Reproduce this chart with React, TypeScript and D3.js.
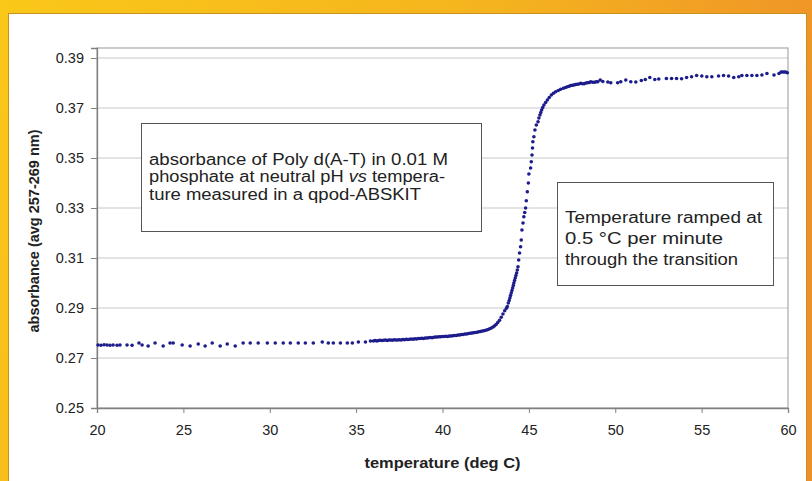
import { useEffect, useRef } from "react";
import * as d3 from "d3";

const W = 812;
const H = 481;
const MARGIN = { top: 48, right: 24, bottom: 73, left: 97 };

// temperature (deg C) and absorbance
const temps = [
  20.06, 20.23, 20.41, 20.58, 20.75, 20.93, 21.16, 21.33, 21.74, 22.03, 22.43, 22.61, 22.96, 23.36,
  23.83, 24.23, 24.41, 24.93, 25.39, 25.86, 26.26, 26.67, 27.13, 27.54, 28.0, 28.46, 28.87, 29.33,
  29.86, 30.32, 30.78, 31.19, 31.65, 32.06, 32.52, 33.04, 33.39, 33.68, 34.09, 34.49, 34.78, 35.13,
  35.54, 35.83,
  36.0, 36.1, 36.2, 36.3, 36.4, 36.5, 36.6, 36.7, 36.8, 36.9, 37.0, 37.1, 37.2, 37.3, 37.4, 37.5,
  37.6, 37.7, 37.8, 37.9, 38.0, 38.1, 38.2, 38.3, 38.4, 38.5, 38.6, 38.7, 38.8, 38.9, 39.0, 39.1,
  39.2, 39.3, 39.4, 39.5, 39.6, 39.7, 39.8, 39.9, 40.0, 40.1, 40.2, 40.3, 40.4, 40.5, 40.6, 40.7,
  40.8, 40.9, 41.0, 41.1, 41.2, 41.3, 41.4, 41.5, 41.6, 41.7, 41.8, 41.9, 42.0, 42.1, 42.2, 42.3,
  42.4, 42.5, 42.6, 42.7, 42.8, 42.9, 43.0, 43.1, 43.2, 43.3, 43.4, 43.5, 43.6, 43.7, 43.75, 43.81,
  43.86, 43.9, 43.94, 43.98, 44.02, 44.06, 44.1, 44.13, 44.17, 44.21, 44.25, 44.29, 44.33, 44.37,
  44.41, 44.46, 44.52, 44.56, 44.6, 44.66, 44.71, 44.76, 44.81, 44.85, 44.91, 44.97, 45.0, 45.1,
  45.14, 45.18, 45.21, 45.23, 45.29, 45.35, 45.43, 45.53, 45.58, 45.64, 45.69, 45.74, 45.8, 45.87,
  45.97, 46.07, 46.18, 46.3, 46.42, 46.55, 46.7, 46.84, 47.0, 47.12, 47.23, 47.33, 47.42, 47.52,
  47.61, 47.7, 47.8, 47.9, 48.0, 48.1, 48.2, 48.3, 48.4, 48.5, 48.58, 48.7, 48.8, 48.9, 48.99,
  49.13, 49.28, 49.57, 49.74, 50.14, 50.32, 50.61, 50.9, 51.19, 51.51, 51.74, 52.0, 52.29, 52.52,
  52.96, 53.26, 53.55, 53.84, 54.13, 54.42, 54.71, 55.01, 55.3, 55.59, 55.98, 56.27, 56.56, 56.86,
  57.15, 57.33, 57.62, 57.91, 58.2, 58.49, 58.78, 59.19, 59.48, 59.6, 59.68, 59.78, 59.87, 59.96,
];

const absorbance = [
  0.2752, 0.2751, 0.2753, 0.2752, 0.2751, 0.2752, 0.2751, 0.2752, 0.2752, 0.2751, 0.276, 0.2752, 0.2748, 0.276,
  0.2748, 0.276, 0.276, 0.2752, 0.2748, 0.2756, 0.2748, 0.276, 0.2748, 0.2756, 0.2748, 0.276, 0.276, 0.276,
  0.276, 0.276, 0.276, 0.276, 0.276, 0.276, 0.276, 0.2764, 0.276, 0.276, 0.276, 0.276, 0.276, 0.2764,
  0.2764, 0.2768,
  0.2768, 0.277, 0.2768, 0.277, 0.2771, 0.277, 0.2771, 0.2772, 0.277, 0.2772, 0.2772, 0.2771, 0.2773, 0.2772, 0.2772, 0.2773,
  0.2772, 0.2774, 0.2773, 0.2775, 0.2774, 0.2775, 0.2776, 0.2775, 0.2777, 0.2776, 0.2778, 0.2778, 0.2779, 0.2778, 0.278, 0.278,
  0.2781, 0.2782, 0.2781, 0.2783, 0.2784, 0.2784, 0.2785, 0.2785, 0.2786, 0.2786, 0.2787, 0.2786, 0.2788, 0.2788, 0.2789, 0.279,
  0.279, 0.2792, 0.2792, 0.2794, 0.2794, 0.2796, 0.2796, 0.2798, 0.2799, 0.28, 0.2801, 0.2802, 0.2803, 0.2805, 0.2806, 0.2808,
  0.2809, 0.2811, 0.2813, 0.2816, 0.2819, 0.2823, 0.2828, 0.2834, 0.2842, 0.2851, 0.2863, 0.2876, 0.2889, 0.2899, 0.2906, 0.292,
  0.293, 0.294, 0.295, 0.296, 0.297, 0.298, 0.299, 0.3, 0.301, 0.302, 0.303, 0.304, 0.3052, 0.3065,
  0.3092, 0.312, 0.3145, 0.3172, 0.3212, 0.324, 0.3265, 0.3282, 0.33, 0.3329, 0.3365, 0.34, 0.3436, 0.346,
  0.3485, 0.3512, 0.354, 0.3565, 0.3585, 0.3612, 0.3632, 0.3645, 0.366, 0.3672, 0.3682, 0.3692, 0.3702, 0.3712,
  0.3722, 0.3732, 0.3742, 0.3752, 0.3759, 0.3765, 0.377, 0.3775, 0.3779, 0.3782, 0.3785, 0.3787, 0.379, 0.3791,
  0.3792, 0.3794, 0.3795, 0.3796, 0.3799, 0.3797, 0.3797, 0.38, 0.3801, 0.3802, 0.3805, 0.3803, 0.3803, 0.3805, 0.3805,
  0.3812, 0.3806, 0.3804, 0.3801, 0.3801, 0.3805, 0.3812, 0.3805, 0.3804, 0.381, 0.3814, 0.3822, 0.3814, 0.3816,
  0.3818, 0.3818, 0.3818, 0.3817, 0.3822, 0.3825, 0.383, 0.3828, 0.3825, 0.3825, 0.3828, 0.383, 0.3828, 0.3822,
  0.3825, 0.383, 0.383, 0.383, 0.383, 0.3832, 0.3838, 0.3832, 0.3838, 0.3844, 0.3844, 0.3844, 0.3844, 0.3841,
];

const xTicks = [20, 25, 30, 35, 40, 45, 50, 55, 60];
const yTicks = [0.25, 0.27, 0.29, 0.31, 0.33, 0.35, 0.37, 0.39];

const note1 = [
  ["absorbance of Poly d(A-T) in 0.01 M"],
  ["phosphate at neutral pH ", "vs", " tempera-"],
  ["ture measured in a qpod-ABSKIT"],
];
const note1Widths = [299, 296, 272];
const note2 = ["Temperature ramped at", "0.5 °C per minute", "through the transition"];
const note2Widths = [197, 158, 173];

const FONT = "'Liberation Sans', Arial, sans-serif";

export default function App() {
  const svgRef = useRef<SVGSVGElement>(null);

  useEffect(() => {
    if (!svgRef.current) return;
    const svg = d3.select(svgRef.current);
    svg.selectAll("*").remove();

    const innerW = W - MARGIN.left - MARGIN.right;
    const innerH = H - MARGIN.top - MARGIN.bottom;

    const x = d3.scaleLinear().domain([20, 60]).range([MARGIN.left, MARGIN.left + innerW]);
    const y = d3.scaleLinear().domain([0.25, 0.394]).range([MARGIN.top + innerH, MARGIN.top]);

    // background frame
    const defs = svg.append("defs");
    const grad = defs.append("linearGradient").attr("id", "frame").attr("x1", "0").attr("x2", "1").attr("y1", "0").attr("y2", "0.3");
    grad.append("stop").attr("offset", "0%").attr("stop-color", "#fac819");
    grad.append("stop").attr("offset", "55%").attr("stop-color", "#f5b41e");
    grad.append("stop").attr("offset", "100%").attr("stop-color", "#ee9029");
    svg.append("rect").attr("width", W).attr("height", H).attr("fill", "url(#frame)");
    svg.append("rect")
      .attr("x", 8.5).attr("y", 13.5).attr("width", 798).attr("height", 480)
      .attr("fill", "#fff").attr("stroke", "#c9901c").attr("stroke-width", 1);

    const g = svg.append("g").attr("font-family", FONT);

    // gridlines
    g.selectAll("line.grid")
      .data(yTicks.slice(1))
      .join("line")
      .attr("class", "grid")
      .attr("x1", x(20)).attr("x2", x(60))
      .attr("y1", (d) => y(d)).attr("y2", (d) => y(d))
      .attr("stroke", "#c8c8c8").attr("stroke-width", 1);

    // plot frame
    g.append("rect")
      .attr("x", x(20)).attr("y", y(0.394))
      .attr("width", x(60) - x(20)).attr("height", y(0.25) - y(0.394))
      .attr("fill", "none").attr("stroke", "#a8a8a8").attr("stroke-width", 1.2);

    // axes
    const xAxis = g.append("g")
      .attr("transform", `translate(0,${y(0.25)})`)
      .call(d3.axisBottom(x).tickValues(xTicks).tickSize(5).tickPadding(12).tickFormat(d3.format("d")));
    const yAxis = g.append("g")
      .attr("transform", `translate(${x(20)},0)`)
      .call(d3.axisLeft(y).tickValues(yTicks).tickSize(6).tickPadding(7).tickFormat(d3.format(".2f")));
    [xAxis, yAxis].forEach((a) => {
      a.select(".domain").attr("stroke", "#808080").attr("stroke-width", 1.3);
      a.selectAll(".tick line").attr("stroke", "#808080");
      a.selectAll(".tick text").attr("fill", "#222").style("font-size", "14.5px").style("font-family", FONT);
    });

    // axis labels
    g.append("text")
      .attr("x", x(40)).attr("y", 468)
      .attr("text-anchor", "middle").attr("font-weight", "bold")
      .attr("fill", "#222").style("font-size", "14.5px")
      .attr("textLength", 156).attr("lengthAdjust", "spacingAndGlyphs")
      .text("temperature (deg C)");
    g.append("text")
      .attr("transform", `translate(39,${(y(0.25) + y(0.394)) / 2 + 3}) rotate(-90)`)
      .attr("text-anchor", "middle").attr("font-weight", "bold")
      .attr("fill", "#222").style("font-size", "14.5px")
      .attr("textLength", 203).attr("lengthAdjust", "spacingAndGlyphs")
      .text("absorbance (avg 257-269 nm)");

    // annotation boxes
    g.append("rect")
      .attr("x", 141.5).attr("y", 123.5).attr("width", 340).attr("height", 108)
      .attr("fill", "#fff").attr("stroke", "#555").attr("stroke-width", 1);
    note1.forEach((parts, i) => {
      const t = g.append("text")
        .attr("x", 149).attr("y", 165 + i * 17.3)
        .attr("fill", "#222").style("font-size", "16px")
        .attr("textLength", note1Widths[i]).attr("lengthAdjust", "spacingAndGlyphs");
      parts.forEach((p) => {
        t.append("tspan").attr("font-style", p === "vs" ? "italic" : "normal").text(p);
      });
    });

    g.append("rect")
      .attr("x", 557.5).attr("y", 182.5).attr("width", 216).attr("height", 103)
      .attr("fill", "#fff").attr("stroke", "#555").attr("stroke-width", 1);
    note2.forEach((line, i) => {
      g.append("text")
        .attr("x", 565).attr("y", 223 + i * 21)
        .attr("fill", "#222").style("font-size", "16px")
        .attr("textLength", note2Widths[i]).attr("lengthAdjust", "spacingAndGlyphs")
        .text(line);
    });

    // data points
    const pts = temps.map((t, i) => ({ t, a: absorbance[i] }));
    g.selectAll("circle.pt")
      .data(pts)
      .join("circle")
      .attr("class", "pt")
      .attr("cx", (d) => x(d.t))
      .attr("cy", (d) => y(d.a))
      .attr("r", 1.8)
      .attr("fill", "#1c1c8c");
  }, []);

  return (
    <svg
      ref={svgRef}
      width={W}
      height={H}
      style={{ position: "absolute", left: 0, top: 0, display: "block" }}
    />
  );
}
